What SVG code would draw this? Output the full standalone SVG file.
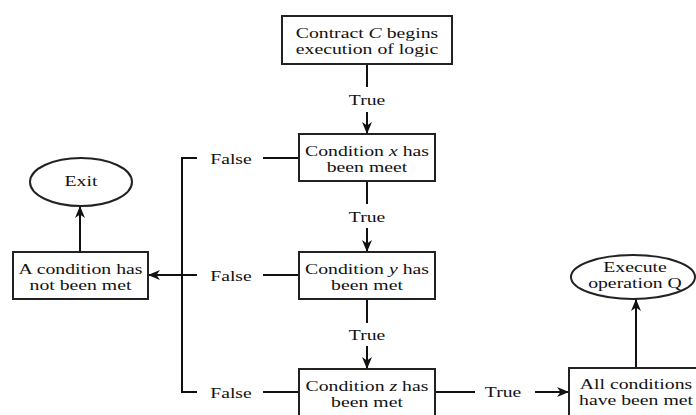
<svg xmlns="http://www.w3.org/2000/svg" width="696" height="415" viewBox="0 0 696 415">
<defs>
<marker id="ah" markerUnits="userSpaceOnUse" markerWidth="13" markerHeight="11" refX="12" refY="5.5" orient="auto" viewBox="0 0 13 11">
<path d="M0,0.5 L12,5.5 L0,10.5 L3.5,5.5 Z" fill="#111"/>
</marker>
</defs>
<style>
.box{fill:#fff;stroke:#222;stroke-width:2}
.ln{fill:none;stroke:#111;stroke-width:2}
.ar{fill:none;stroke:#111;stroke-width:2;marker-end:url(#ah)}
text{font-family:"Liberation Serif","Times New Roman",serif;font-size:14px;fill:#111;text-anchor:middle}
.i{font-style:italic}
</style>
<rect width="696" height="415" fill="#fff"/>
<g id="connectors">
<line class="ln" x1="367" y1="64" x2="367" y2="87"/>
<line class="ar" x1="367" y1="112" x2="367" y2="134"/>
<line class="ln" x1="367" y1="181" x2="367" y2="204"/>
<line class="ar" x1="367" y1="228" x2="367" y2="252"/>
<line class="ln" x1="367" y1="299" x2="367" y2="323"/>
<line class="ar" x1="367" y1="346" x2="367" y2="369"/>
<polyline class="ln" points="197,158 182,158 182,392 197,392"/>
<line class="ar" x1="197" y1="275" x2="148" y2="275"/>
<line class="ln" x1="263" y1="158" x2="299" y2="158"/>
<line class="ln" x1="263" y1="275" x2="299" y2="275"/>
<line class="ln" x1="263" y1="392" x2="299" y2="392"/>
<line class="ar" x1="80" y1="252" x2="80" y2="206"/>
<line class="ln" x1="434" y1="392" x2="475" y2="392"/>
<line class="ar" x1="535" y1="392" x2="569" y2="392"/>
<line class="ar" x1="636" y1="368" x2="636" y2="299"/>
<text transform="translate(367,105) scale(1.4,1)">True</text>
<text transform="translate(367,222) scale(1.4,1)">True</text>
<text transform="translate(367,340) scale(1.4,1)">True</text>
<text transform="translate(503,397) scale(1.4,1)">True</text>
<text transform="translate(231,164) scale(1.4,1)">False</text>
<text transform="translate(231,281) scale(1.4,1)">False</text>
<text transform="translate(231,398) scale(1.4,1)">False</text>
</g>
<g id="start">
<rect class="box" x="282" y="16" width="170" height="48"/>
<text transform="translate(367,37.5) scale(1.41,1)">Contract <tspan class="i">C</tspan> begins</text>
<text transform="translate(367,54) scale(1.41,1)">execution of logic</text>
</g>
<g id="condX">
<rect class="box" x="299" y="134" width="136" height="47"/>
<text transform="translate(367,155.5) scale(1.41,1)">Condition <tspan class="i">x</tspan> has</text>
<text transform="translate(367,172) scale(1.41,1)">been meet</text>
</g>
<g id="condY">
<rect class="box" x="299" y="252" width="136" height="47"/>
<text transform="translate(367,273.5) scale(1.41,1)">Condition <tspan class="i">y</tspan> has</text>
<text transform="translate(367,290) scale(1.41,1)">been met</text>
</g>
<g id="condZ">
<rect class="box" x="299" y="369" width="136" height="47"/>
<text transform="translate(367,390.5) scale(1.41,1)">Condition <tspan class="i">z</tspan> has</text>
<text transform="translate(367,407) scale(1.41,1)">been met</text>
</g>
<g id="notMet">
<rect class="box" x="13" y="252" width="135" height="47"/>
<text transform="translate(80.5,273.5) scale(1.41,1)">A condition has</text>
<text transform="translate(80.5,290) scale(1.41,1)">not been met</text>
</g>
<g id="exit">
<ellipse class="box" cx="81" cy="182" rx="51" ry="24"/>
<text transform="translate(81,186) scale(1.41,1)">Exit</text>
</g>
<g id="allMet">
<rect class="box" x="569" y="368" width="140" height="48"/>
<text transform="translate(636,388.5) scale(1.41,1)">All conditions</text>
<text transform="translate(636,405) scale(1.41,1)">have been met</text>
</g>
<g id="execute">
<ellipse class="box" cx="633" cy="277" rx="62" ry="22"/>
<text transform="translate(635,271.5) scale(1.41,1)">Execute</text>
<text transform="translate(635,288) scale(1.41,1)">operation Q</text>
</g>
</svg>
